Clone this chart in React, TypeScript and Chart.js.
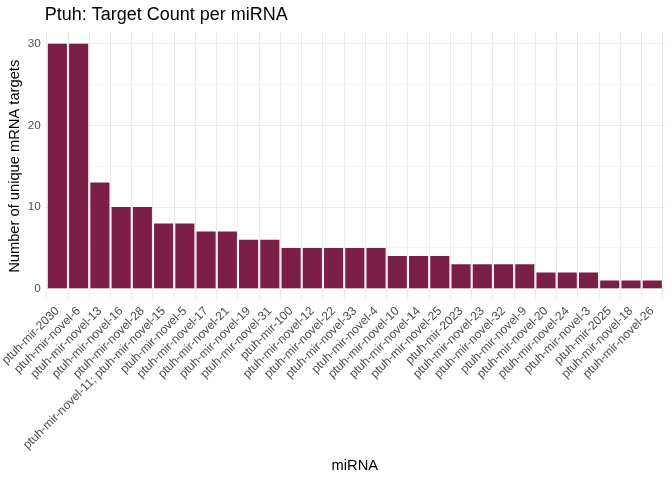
import React, { useEffect, useRef } from "react";
import { Chart, registerables } from "chart.js";

Chart.register(...registerables);

const categories: string[] = [
  "ptuh-mir-2030",
  "ptuh-mir-novel-6",
  "ptuh-mir-novel-13",
  "ptuh-mir-novel-16",
  "ptuh-mir-novel-28",
  "ptuh-mir-novel-11; ptuh-mir-novel-15",
  "ptuh-mir-novel-5",
  "ptuh-mir-novel-17",
  "ptuh-mir-novel-21",
  "ptuh-mir-novel-19",
  "ptuh-mir-novel-31",
  "ptuh-mir-100",
  "ptuh-mir-novel-12",
  "ptuh-mir-novel-22",
  "ptuh-mir-novel-33",
  "ptuh-mir-novel-4",
  "ptuh-mir-novel-10",
  "ptuh-mir-novel-14",
  "ptuh-mir-novel-25",
  "ptuh-mir-2023",
  "ptuh-mir-novel-23",
  "ptuh-mir-novel-32",
  "ptuh-mir-novel-9",
  "ptuh-mir-novel-20",
  "ptuh-mir-novel-24",
  "ptuh-mir-novel-3",
  "ptuh-mir-2025",
  "ptuh-mir-novel-18",
  "ptuh-mir-novel-26",
];

const targetCounts: number[] = [
  30, 30, 13, 10, 10, 8, 8, 7, 7, 6, 6, 5, 5, 5, 5, 5, 4, 4, 4, 3, 3, 3, 3, 2, 2, 2, 1, 1, 1,
];

const yTicks: number[] = [0, 5, 10, 15, 20, 25, 30];
const yLabelTicks: number[] = [0, 10, 20, 30];

const FONT = "'Liberation Sans', Arial, sans-serif";

export default function App() {
  const ref = useRef<HTMLCanvasElement | null>(null);

  useEffect(() => {
    if (!ref.current) return;
    const chart = new Chart(ref.current, {
      type: "bar",
      data: {
        datasets: [
          {
            data: targetCounts.map((v, i) => ({ x: i, y: v })),
            backgroundColor: "#7B1F47",
            borderWidth: 0,
            barPercentage: 0.9,
            categoryPercentage: 1,
          },
        ],
      },
      options: {
        animation: false,
        responsive: true,
        maintainAspectRatio: false,
        layout: { padding: { top: 4, right: 7, bottom: 5, left: 6 } },
        plugins: {
          legend: { display: false },
          tooltip: { enabled: false },
          title: {
            display: true,
            text: "Ptuh: Target Count per miRNA",
            align: "start",
            fullSize: false,
            color: "#000000",
            font: { family: FONT, size: 18, weight: "normal" },
            padding: { top: 0, bottom: 6 },
          },
        },
        scales: {
          x: {
            type: "linear",
            offset: false,
            min: -0.6,
            max: categories.length - 1 + 0.6,
            afterBuildTicks: (axis: any) => {
              axis.ticks = categories.map((_, i) => ({ value: i }));
            },
            afterFit: (axis: any) => {
              axis.paddingLeft = 0;
              axis.paddingRight = 0;
            },
            grid: { color: "#ebebeb", lineWidth: 1, drawTicks: false },
            border: { display: false },
            ticks: {
              autoSkip: false,
              maxRotation: 45,
              minRotation: 45,
              padding: 3,
              color: "#4d4d4d",
              font: { family: FONT, size: 12.1 },
              callback: (value: any) => categories[Number(value)] ?? "",
            },
            title: {
              display: true,
              text: "miRNA",
              color: "#000000",
              font: { family: FONT, size: 14.7 },
              padding: { top: 2, bottom: 0 },
            },
          },
          y: {
            type: "linear",
            min: -1.5,
            max: 31.5,
            afterBuildTicks: (axis: any) => {
              axis.ticks = yTicks.map((v) => ({ value: v }));
            },
            grid: {
              color: (ctx: any) =>
                yLabelTicks.includes(ctx.tick?.value) ? "#ebebeb" : "#f3f3f3",
              lineWidth: (ctx: any) => (yLabelTicks.includes(ctx.tick?.value) ? 1 : 0.8),
              drawTicks: false,
            },
            border: { display: false },
            ticks: {
              padding: 4,
              color: "#4d4d4d",
              font: { family: FONT, size: 11.7 },
              callback: (value: any) =>
                yLabelTicks.includes(Number(value)) ? String(value) : "",
            },
            title: {
              display: true,
              text: "Number of unique mRNA targets",
              color: "#000000",
              font: { family: FONT, size: 14.7 },
              padding: { top: 0, bottom: 0 },
            },
          },
        },
      },
    } as any);
    return () => chart.destroy();
  }, []);

  return (
    <div
      style={{
        position: "fixed",
        left: 0,
        top: 0,
        width: 672,
        height: 480,
        background: "#ffffff",
      }}
    >
      <canvas ref={ref} />
    </div>
  );
}
